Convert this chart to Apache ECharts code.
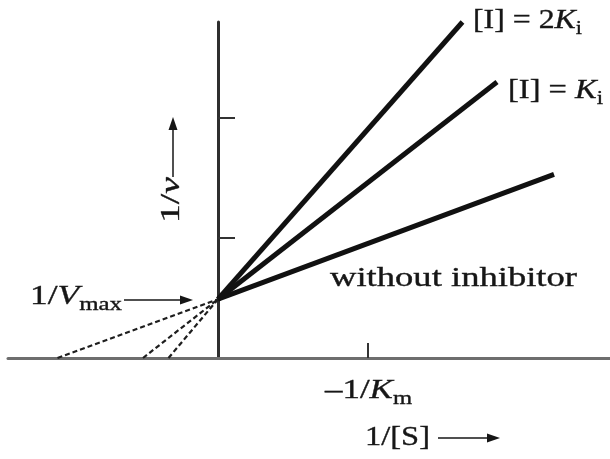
<!DOCTYPE html>
<html>
<head>
<meta charset="utf-8">
<script src="https://cdn.jsdelivr.net/npm/echarts@6/dist/echarts.min.js"></script>
<style>
  html, body { margin: 0; padding: 0; background: #fff; }
  #chart { width: 610px; height: 459px; }
</style>
</head>
<body>
<div id="chart"></div>
<script>
// Lineweaver–Burk plot for a competitive inhibitor
const yIntercept = 0.49;                       // 1/Vmax, shared by every line
const lineNames = ['without inhibitor', '[I] = Ki', '[I] = 2Ki'];
const lineEndX = [2.24, 1.86, 1.63];           // 1/[S] at the right end of each line
const lineEndY = [1.53, 2.30, 2.80];           // 1/v at the right end of each line
const xIntercepts = [-1.07, -0.50, -0.33];     // where each extrapolated line meets the x axis
const yTicks = [1, 2];
const xTicks = [1];

const FONT = 'Liberation Serif';
const SIZE = 27;
const SUB = 19;
const INK = '#161616';

const chart = echarts.init(document.getElementById('chart'), null, { renderer: 'canvas' });

const solidSeries = lineNames.map((name, k) => ({
  name,
  type: 'line',
  data: [[0, yIntercept], [lineEndX[k], lineEndY[k]]],
  symbol: 'none',
  clip: false,
  silent: true,
  z: 5,
  lineStyle: { color: '#111', width: 5, cap: 'butt' }
}));

const dashedSeries = lineNames.map((name, k) => ({
  name: name + ' (extrapolated)',
  type: 'line',
  data: [[xIntercepts[k], 0], [0, yIntercept]],
  symbol: 'none',
  clip: false,
  silent: true,
  z: 4,
  lineStyle: { color: '#1e1e1e', width: 2.2, type: [5, 3] }
}));

// rich-text styles: roman, italic, subscript (a hairline stroke gives a semibold weight)
const ink = { fill: INK, stroke: INK, lineWidth: 0.35 };
const rich = {
  r: Object.assign({ fontFamily: FONT, fontSize: SIZE, lineHeight: 36, verticalAlign: 'middle' }, ink),
  i: Object.assign({ fontFamily: FONT, fontSize: SIZE, fontStyle: 'italic', lineHeight: 36, verticalAlign: 'middle' }, ink),
  s: Object.assign({ fontFamily: FONT, fontSize: SUB, lineHeight: 10, verticalAlign: 'bottom' }, ink)
};

// natural width of a rich string, used to widen the lettering to its set width
const measureCtx = document.createElement('canvas').getContext('2d');
function richWidth(text) {
  let w = 0;
  text.replace(/\{(\w)\|([^}]*)\}/g, (m, key, str) => {
    const st = rich[key];
    measureCtx.font = (st.fontStyle || 'normal') + ' ' + st.fontSize + 'px "' + FONT + '"';
    w += measureCtx.measureText(str).width;
    return m;
  });
  return w;
}

// text placed by its left end and baseline, stretched to the given width
function label(text, x, baseline, width, rotation) {
  return {
    type: 'text',
    x, y: baseline,
    rotation: rotation || 0,
    scaleX: width / richWidth(text),
    silent: true,
    z: 10,
    style: { text, rich, align: 'left', verticalAlign: 'top', y: -27 }
  };
}

function arrow(x1, y1, x2, y2) {
  const ang = Math.atan2(y2 - y1, x2 - x1);
  const L = 13, W = 4.5;
  const bx = x2 - L * Math.cos(ang), by = y2 - L * Math.sin(ang);
  const px = -Math.sin(ang) * W, py = Math.cos(ang) * W;
  return {
    type: 'group',
    silent: true,
    children: [
      { type: 'line', shape: { x1, y1, x2: bx + Math.cos(ang), y2: by + Math.sin(ang) },
        style: { stroke: INK, lineWidth: 1.5 } },
      { type: 'polygon', shape: { points: [[x2, y2], [bx + px, by + py], [bx - px, by - py]] },
        style: { fill: INK } }
    ]
  };
}

chart.setOption({
  animation: false,
  backgroundColor: '#fff',
  grid: { left: 8, right: 0, top: 22, bottom: 101, containLabel: false },
  xAxis: {
    type: 'value',
    min: -1.4, max: 2.6133,
    splitLine: { show: false },
    axisLine: { onZero: true, lineStyle: { color: '#6e6e6e', width: 3 } },
    axisTick: { customValues: xTicks, inside: true, length: 15, lineStyle: { color: '#333', width: 2 } },
    axisLabel: { show: false }
  },
  yAxis: {
    type: 'value',
    min: 0, max: 2.8,
    splitLine: { show: false },
    axisLine: { onZero: true, lineStyle: { color: '#2e2e2e', width: 3 } },
    axisTick: { customValues: yTicks, inside: true, length: 17, lineStyle: { color: '#333', width: 2 } },
    axisLabel: { show: false }
  },
  series: dashedSeries.concat(solidSeries),
  graphic: [
    label('{r|without inhibitor}', 330, 288, 247),
    label('{r|[I] = 2}{i|K}{s|i}', 473, 30, 109),
    label('{r|[I] = }{i|K}{s|i}', 508, 100, 95),
    label('{r|1/}{i|V}{s|max}', 30, 306, 92),
    label('{r|–1/}{i|K}{s|m}', 325, 400, 87),
    label('{r|1/[S]}', 365, 447, 65),
    label('{r|1/}{i|v}', 181, 223, 46, Math.PI / 2),
    arrow(124, 300, 193, 300),
    arrow(173, 177, 173, 117),
    arrow(438, 438, 500, 438)
  ]
});
</script>
</body>
</html>
